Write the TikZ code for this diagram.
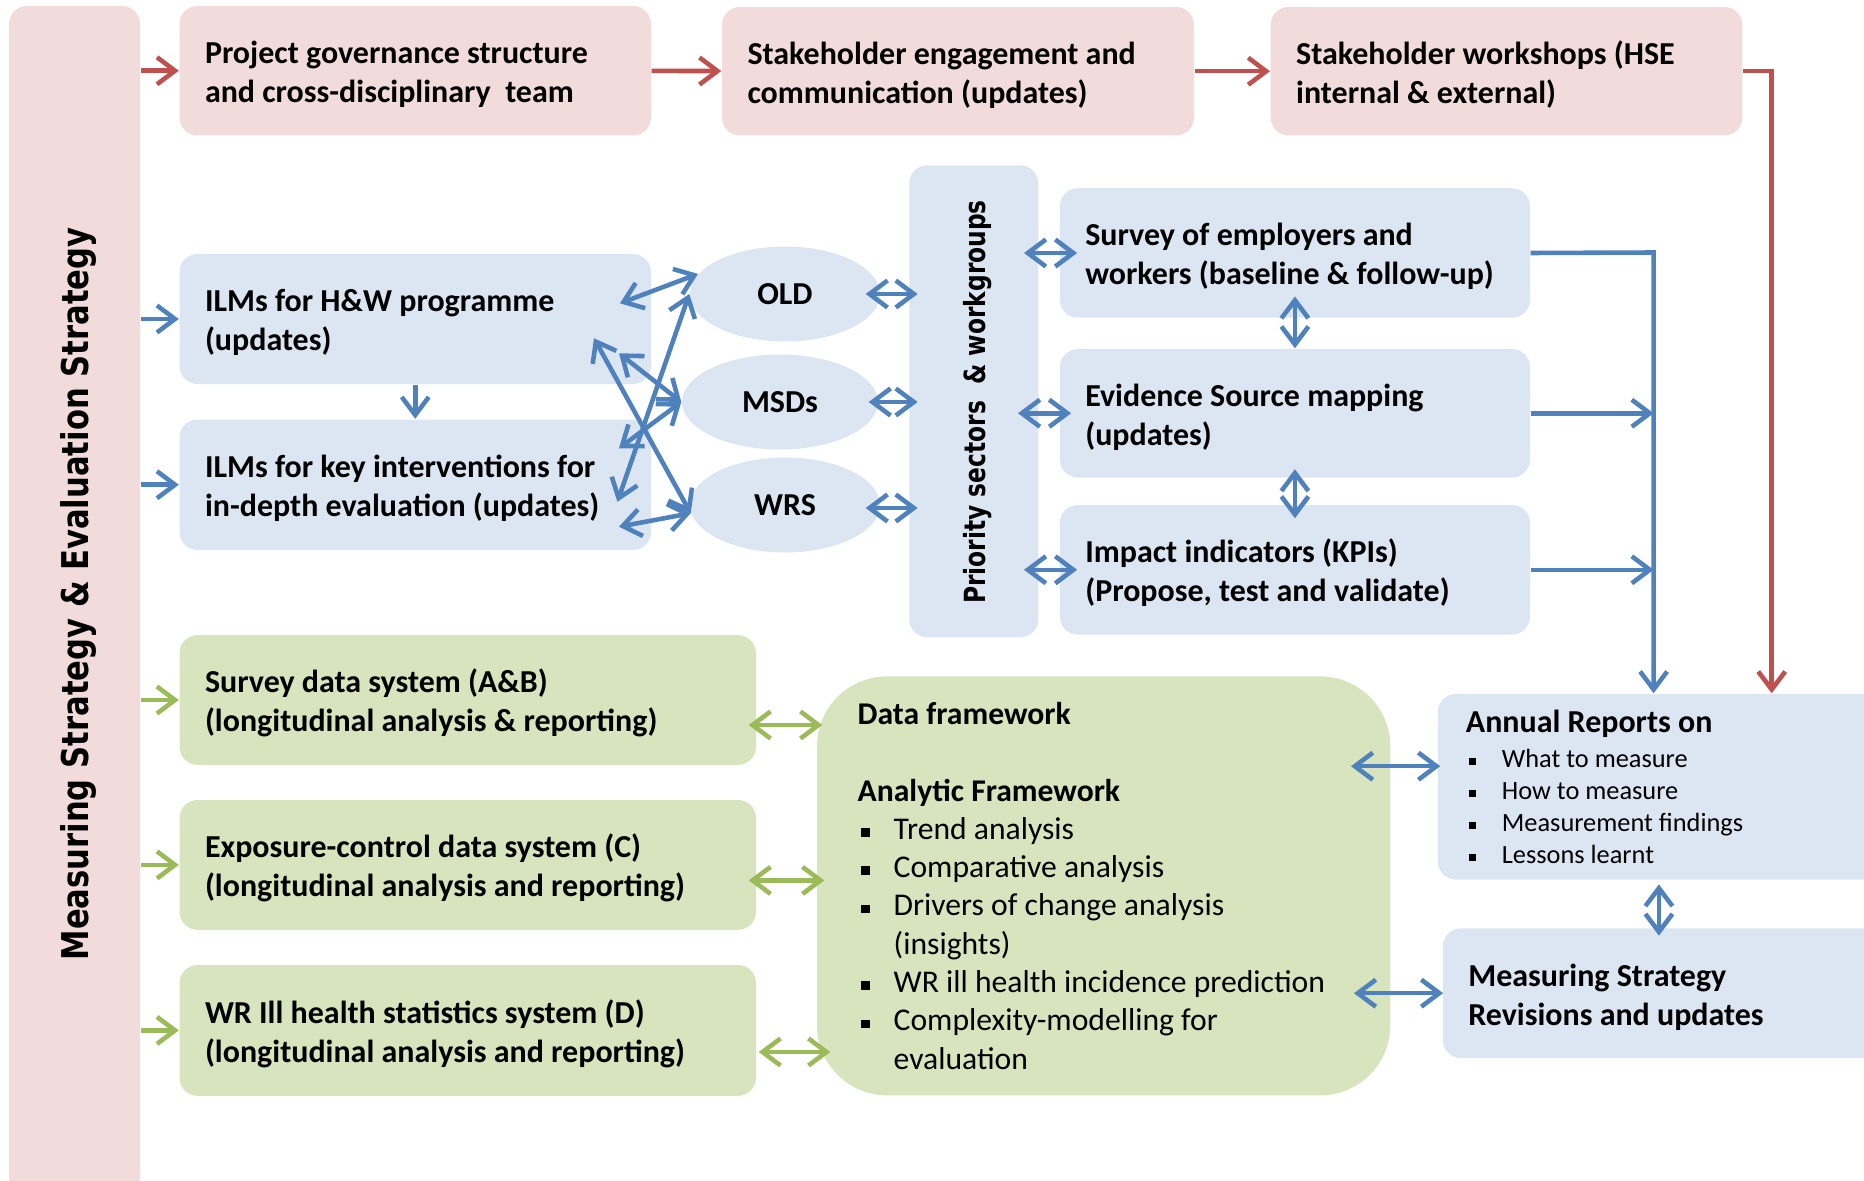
\documentclass[tikz,border=0pt]{standalone}
\usepackage{fontspec}
\setmainfont{Carlito}
\newfontfamily\widesans{DejaVu Sans}
\usetikzlibrary{arrows.meta,shapes.geometric}

\definecolor{pinkfill}{HTML}{F2DCDB}
\definecolor{bluefill}{HTML}{DCE6F2}
\definecolor{greenfill}{HTML}{D7E4BD}
\definecolor{redline}{HTML}{C0504D}
\definecolor{blueline}{HTML}{4F81BD}
\definecolor{greenline}{HTML}{9BBB59}

\newcommand{\itm}{\hspace*{0.3mm}\makebox[3.3mm][l]{\rule[0.08em]{0.28em}{0.28em}}}
\newcommand{\hang}{\hspace*{3.6mm}}
\newcommand{\tightspace}{\spaceskip=0.226em plus 0.1em minus 0.05em\relax}

\begin{document}
\begin{tikzpicture}[> = {Straight Barb[length=1.8mm,width=2.7mm]},
  box/.style={rounded corners=1.8mm, inner xsep=2.55mm, inner ysep=0pt,
    font=\fontsize{9.1}{11.1}\selectfont\bfseries},
  lift/.style={execute at begin node={\tightspace\rule{0pt}{8.5pt}}},
  pinkbox/.style={box, lift, fill=pinkfill},
  bluebox/.style={box, lift, fill=bluefill},
  greenbox/.style={box, lift, fill=greenfill},
  oval/.style={ellipse, fill=bluefill, inner sep=0pt, minimum width=1.9cm, minimum height=0.95cm,
    font=\fontsize{9.1}{11.1}\selectfont\bfseries},
  rarr/.style={redline, line width=1.3pt, ->},
  barr/.style={blueline, line width=1.3pt, ->},
  garr/.style={greenline, line width=1.3pt, ->}]
\useasboundingbox (0,0) rectangle (18.64,-11.81);

% side bar
\node[fill=pinkfill, rounded corners=1.8mm, minimum width=1.31cm, minimum height=11.89cm] (bar) at (0.745,-6.005) {};
\node[rotate=90, font=\widesans\bfseries\fontsize{10.5}{12}\selectfont] (bartext) at (0.786,-5.94)
  {\scalebox{0.83}[1]{Measuring Strategy \& Evaluation Strategy}};

% top row
\node[pinkbox, text width=4.205cm, minimum height=1.295cm] (gov) at (4.1525,-0.7075) {Project governance structure\\and cross-disciplinary~ team};
\node[pinkbox, text width=4.21cm, minimum height=1.286cm] (eng) at (9.58,-0.712) {Stakeholder engagement and\\communication (updates)};
\node[pinkbox, text width=4.206cm, minimum height=1.286cm] (wsh) at (15.065,-0.712) {Stakeholder workshops (HSE\\internal \& external)};

% logic models
\node[bluebox, text width=4.205cm, minimum height=1.30cm] (ilmhw) at (4.1525,-3.19) {ILMs for H\&W programme\\(updates)};
\node[bluebox, text width=4.205cm, minimum height=1.305cm] (ilmkey) at (4.1525,-4.8475) {ILMs for key interventions for\\in-depth evaluation (updates)};
\node[oval] (old) at (7.85,-2.94) {OLD};
\node[oval, minimum width=1.96cm] (msd) at (7.80,-4.02) {MSDs};
\node[oval] (wrs) at (7.85,-5.05) {WRS};
\node[box, fill=bluefill, minimum width=1.29cm, minimum height=4.72cm] (prio) at (9.738,-4.013) {};
\node[rotate=90, font=\widesans\bfseries\fontsize{8.3}{10}\selectfont] (priotext) at (9.78,-4.02)
  {\scalebox{0.8}[1]{Priority sectors\ \ \& workgroups}};
\node[bluebox, text width=4.192cm, minimum height=1.295cm] (surv) at (12.949,-2.53) {Survey of employers and\\workers (baseline \& follow-up)};
\node[bluebox, text width=4.192cm, minimum height=1.285cm] (evid) at (12.949,-4.1325) {Evidence Source mapping\\(updates)};
\node[bluebox, text width=4.192cm, minimum height=1.296cm] (kpi) at (12.949,-5.698) {Impact indicators (KPIs)\\(Propose, test and validate)};

% data systems
\node[greenbox, text width=5.255cm, minimum height=1.297cm] (sds) at (4.6775,-7.0) {Survey data system (A\&B)\\(longitudinal analysis \& reporting)};
\node[greenbox, text width=5.255cm, minimum height=1.298cm] (ecs) at (4.6775,-8.649) {Exposure-control data system (C)\\(longitudinal analysis and reporting)};
\node[greenbox, text width=5.255cm, minimum height=1.308cm] (whs) at (4.6775,-10.304) {WR Ill health statistics system (D)\\(longitudinal analysis and reporting)};
\node[box, fill=greenfill, rounded corners=7mm, text width=4.919cm, inner xsep=4.07mm, minimum height=4.189cm,
  font=\fontsize{9}{10.9}\selectfont, execute at begin node=\tightspace] (dfw) at (11.0365,-8.8585)
  {\textbf{Data framework}\\[10.9pt]
   \textbf{Analytic Framework}\\
   \itm Trend analysis\\
   \itm Comparative analysis\\
   \itm Drivers of change analysis\\
   \hang(insights)\\
   \itm WR ill health incidence prediction\\
   \itm Complexity-modelling for\\
   \hang evaluation};

% reports
\node[box, fill=bluefill, text width=3.86cm, inner xsep=2.8mm, minimum height=1.856cm,
  font=\fontsize{7.5}{9.1}\selectfont, execute at begin node=\tightspace] (ann) at (16.589,-7.868)
  {{\fontsize{9.1}{11}\selectfont\bfseries\tightspace Annual Reports on}\\[0.7pt]
   \itm What to measure\\
   \itm How to measure\\
   \itm Measurement findings\\
   \itm Lessons learnt};
\node[bluebox, text width=3.867cm, minimum height=1.296cm] (rev) at (16.6165,-9.932) {Measuring Strategy\\Revisions and updates};

\coordinate (redx) at (17.717,-0.712);
\coordinate (bus) at (16.536,-2.525);

% red flow
\draw[rarr] (bar.east |- gov) -- (gov.west);
\draw[rarr] (gov) -- (eng);
\draw[rarr] (eng) -- (wsh);
\draw[rarr] (wsh.east) -- (redx) -- (redx |- ann.north);

% blue flow
\draw[barr] (bar.east |- ilmhw) -- (ilmhw.west);
\draw[barr] (bar.east |- ilmkey) -- (ilmkey.west);
\draw[barr] (ilmhw) -- (ilmkey);
\draw[barr, <->] ([shift={(-0.317,0.157)}]ilmhw.east) -- (old.167);
\draw[barr, <->] ([shift={(-0.577,-0.193)}]ilmhw.east) -- (wrs.185);
\draw[barr, <->] ([shift={(-0.327,-0.343)}]ilmhw.east) -- (msd.west);
\draw[barr, <->] ([shift={(-0.343,-0.17)}]ilmkey.east) -- (old.west);
\draw[barr, <->] ([shift={(-0.327,0.365)}]ilmkey.east) -- (msd.west);
\draw[barr, <->] ([shift={(-0.327,-0.42)}]ilmkey.east) -- (wrs.185);
\draw[barr, <->, shorten <=-1.5mm, shorten >=-0.9mm] (old.east) -- (old.east -| prio.west);
\draw[barr, <->, shorten <=-1mm, shorten >=-0.9mm] (msd.east) -- (msd.east -| prio.west);
\draw[barr, <->, shorten <=-1.5mm, shorten >=-0.9mm] ([yshift=-0.03cm]wrs.east) -- ([yshift=-0.03cm]wrs.east -| prio.west);
\draw[barr, <->, shorten <=-1.5mm, shorten >=-1.8mm] (prio.east |- surv) -- (surv.west);
\draw[barr, <->, shorten <=-2.1mm, shorten >=-1.2mm] (prio.east |- evid) -- (evid.west);
\draw[barr, <->, shorten <=-1.5mm, shorten >=-1.8mm] (prio.east |- kpi) -- (kpi.west);
\draw[barr, <->, shorten <=-2.2mm] (surv.south) -- (evid.north);
\draw[barr, <->, shorten <=-0.9mm, shorten >=-1.4mm] (evid.south) -- (kpi.north);
\draw[barr] (surv.east) -- (bus) -- (bus |- ann.north);
\draw[barr] (evid.east) -- (evid.east -| bus);
\draw[barr] (kpi.east) -- (kpi.east -| bus);
\draw[barr, <->, shorten <=-4mm, shorten >=-0.3mm] ([yshift=0.206cm]ann.west -| dfw.east) -- ([yshift=0.206cm]ann.west);
\draw[barr, <->, shorten <=-3.7mm, shorten >=-0.1mm] (rev.west -| dfw.east) -- (rev.west);
\draw[barr, <->, shorten <=0.4mm, shorten >=-0.8mm] (ann.south) -- (ann.south |- rev.north);

% green flow
\draw[garr] (bar.east |- sds) -- (sds.west);
\draw[garr] (bar.east |- ecs) -- (ecs.west);
\draw[garr] (bar.east |- whs) -- (whs.west);
\draw[garr, <->, shorten <=-0.8mm, shorten >=-0.6mm] ([yshift=-0.25cm]sds.east) -- ([yshift=-0.25cm]sds.east -| dfw.west);
\draw[garr, <->, shorten <=-0.8mm, shorten >=-0.8mm] ([yshift=-0.155cm]ecs.east) -- ([yshift=-0.155cm]ecs.east -| dfw.west);
\draw[garr, <->, shorten <=0.2mm, shorten >=-1.4mm] ([yshift=-0.216cm]whs.east) -- ([yshift=-0.216cm]whs.east -| dfw.west);
\end{tikzpicture}
\end{document}
